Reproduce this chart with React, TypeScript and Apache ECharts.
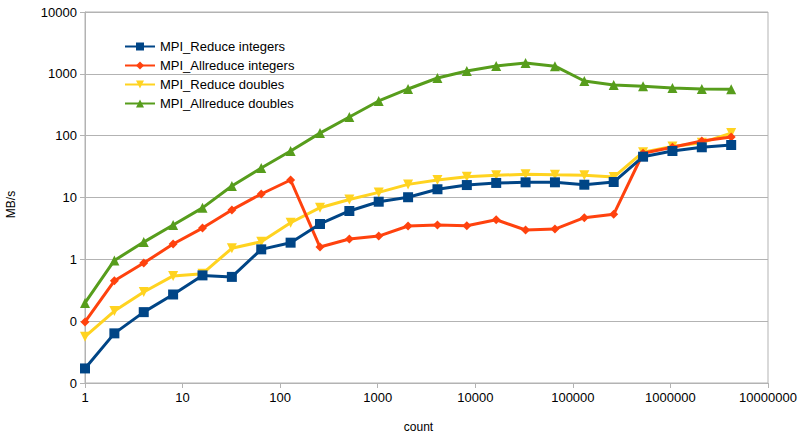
import React, { useEffect, useRef } from "react";
import * as echarts from "echarts";

const counts = [1, 2, 4, 8, 16, 32, 64, 128, 256, 512, 1024, 2048, 4096, 8192, 16384, 32768, 65536, 131072, 262144, 524288, 1048576, 2097152, 4194304];

const reduceIntegers = [0.0172, 0.0635, 0.14, 0.27, 0.55, 0.52, 1.45, 1.86, 3.73, 6.05, 8.55, 10.1, 13.6, 15.9, 17.2, 17.6, 17.6, 16.1, 17.8, 45.7, 56.5, 64.9, 70.6];
const allreduceIntegers = [0.097, 0.45, 0.87, 1.77, 3.2, 6.3, 11.4, 19.2, 1.58, 2.13, 2.38, 3.46, 3.59, 3.5, 4.37, 2.98, 3.09, 4.71, 5.35, 52, 65, 82, 95];
const reduceDoubles = [0.056, 0.146, 0.296, 0.54, 0.586, 1.51, 1.93, 3.9, 6.84, 9.3, 12.1, 16.3, 19.2, 21.7, 22.9, 23.7, 23.3, 23, 21.4, 54, 67, 77, 110];
const allreduceDoubles = [0.197, 0.96, 1.9, 3.6, 6.8, 15.3, 30, 56.5, 110, 200, 364, 569, 857, 1110, 1340, 1500, 1330, 766, 660, 630, 590, 570, 565];

const seriesNames = ["MPI_Reduce integers", "MPI_Allreduce integers", "MPI_Reduce doubles", "MPI_Allreduce doubles"];
const seriesValues = [reduceIntegers, allreduceIntegers, reduceDoubles, allreduceDoubles];
const colors = ["#004586", "#ff420e", "#ffd320", "#579d1c"];
const symbols = ["rect", "diamond", "triangle", "triangle"];
const symbolSizes = [10, 9, 10, 10];
const symbolRotates = [0, 0, 180, 0];

const FONT = "Liberation Sans, Arial, sans-serif";

export default function App() {
  const ref = useRef<HTMLDivElement>(null);
  useEffect(() => {
    if (!ref.current) return;
    const chart = echarts.init(ref.current, null, { renderer: "svg" });
    chart.setOption({
      animation: false,
      textStyle: { fontFamily: FONT },
      grid: {
        left: 85,
        right: 31,
        top: 12,
        bottom: 51,
        show: true,
        borderColor: "#b3b3b3",
        borderWidth: 1,
        outerBoundsMode: "none",
        containLabel: false,
      },
      legend: {
        orient: "vertical",
        left: 119,
        top: 35,
        itemWidth: 30,
        itemHeight: 10,
        itemGap: 6,
        textStyle: { fontSize: 13, color: "#000", fontFamily: FONT },
        data: seriesNames,
      },
      xAxis: {
        type: "log",
        logBase: 10,
        min: 1,
        max: 10000000,
        name: "count",
        nameLocation: "middle",
        nameGap: 38,
        nameTextStyle: { fontSize: 12, color: "#000", fontFamily: FONT, padding: [0, 16, 0, 0] },
        axisLine: { show: true, lineStyle: { color: "#b3b3b3" } },
        axisTick: { show: true, length: 5, lineStyle: { color: "#b3b3b3" } },
        axisLabel: {
          fontSize: 13,
          color: "#000",
          margin: 8,
          fontFamily: FONT,
          formatter: (v: number) => String(Math.round(v)),
        },
        splitLine: { show: false },
        minorTick: { show: false },
      },
      yAxis: {
        type: "log",
        logBase: 10,
        min: 0.01,
        max: 10000,
        name: "MB/s",
        nameLocation: "middle",
        nameGap: 68,
        nameRotate: 90,
        nameTextStyle: { fontSize: 12, color: "#000", fontFamily: FONT, padding: [0, 14, 0, 0] },
        axisLine: { show: true, lineStyle: { color: "#b3b3b3" } },
        axisTick: { show: true, length: 5, lineStyle: { color: "#b3b3b3" } },
        axisLabel: {
          fontSize: 13,
          color: "#000",
          margin: 8,
          fontFamily: FONT,
          formatter: (v: number) => (v < 1 ? "0" : String(Math.round(v))),
        },
        splitLine: { show: true, lineStyle: { color: "#b3b3b3" } },
      },
      series: seriesNames.map((name, i) => ({
        name,
        type: "line",
        data: counts.map((c, j) => [c, seriesValues[i][j]]),
        color: colors[i],
        symbol: symbols[i],
        symbolSize: symbolSizes[i],
        symbolRotate: symbolRotates[i],
        showAllSymbol: true,
        lineStyle: { width: 3, color: colors[i] },
        itemStyle: { color: colors[i] },
        z: 2 + (3 - i),
      })),
    });
    return () => chart.dispose();
  }, []);
  return <div ref={ref} style={{ width: 799, height: 434, position: "absolute", left: 0, top: 0 }} />;
}
